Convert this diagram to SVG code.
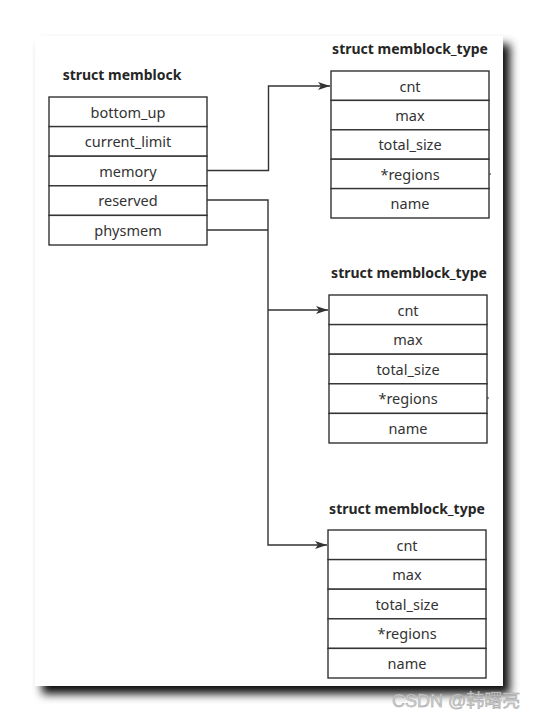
<svg xmlns="http://www.w3.org/2000/svg" width="538" height="721" viewBox="0 0 538 721">
<defs>
<filter id="sh" x="-10%" y="-10%" width="130%" height="130%">
<feDropShadow dx="7" dy="8" stdDeviation="5" flood-color="#000" flood-opacity="0.95"/>
</filter>
<marker id="arr" markerWidth="12" markerHeight="8" refX="12" refY="4" orient="auto" markerUnits="userSpaceOnUse">
<path d="M0,0 L12,4 L0,8 L3,4 Z" fill="#333"/>
</marker>
</defs>
<style>
.box{fill:#fff;stroke:#333;stroke-width:1.4}
.t{font-family:"Noto Sans","Open Sans",sans-serif;font-size:14.5px;fill:#333;text-anchor:middle}
.h{font-family:"Noto Sans","Open Sans",sans-serif;font-size:14px;font-weight:bold;fill:#262626;text-anchor:middle}
.c{fill:none;stroke:#333;stroke-width:1.4}
</style>
<rect width="538" height="721" fill="#fff"/>
<rect x="35" y="36" width="468" height="650" fill="#fff" filter="url(#sh)"/>

<g id="memblock">
<text class="h" x="122" y="80">struct memblock</text>
<rect class="box" x="49" y="97" width="158" height="29.6"/>
<rect class="box" x="49" y="126.6" width="158" height="29.6"/>
<rect class="box" x="49" y="156.2" width="158" height="29.6"/>
<rect class="box" x="49" y="185.8" width="158" height="29.6"/>
<rect class="box" x="49" y="215.4" width="158" height="29.6"/>
<text class="t" x="128" y="117.5">bottom_up</text>
<text class="t" x="128" y="147.1">current_limit</text>
<text class="t" x="128" y="176.7">memory</text>
<text class="t" x="128" y="206.3">reserved</text>
<text class="t" x="128" y="235.9">physmem</text>
</g>

<g id="type1">
<text class="h" x="410" y="54">struct memblock_type</text>
<rect class="box" x="331" y="71" width="158" height="29.4"/>
<rect class="box" x="331" y="100.4" width="158" height="29.4"/>
<rect class="box" x="331" y="129.8" width="158" height="29.4"/>
<rect class="box" x="331" y="159.2" width="158" height="29.4"/>
<rect class="box" x="331" y="188.6" width="158" height="29.4"/>
<text class="t" x="410" y="91.5">cnt</text>
<text class="t" x="410" y="120.9">max</text>
<text class="t" x="410" y="150.3">total_size</text>
<text class="t" x="410" y="179.7">*regions</text>
<text class="t" x="410" y="209.1">name</text>
<line x1="489" y1="174" x2="491" y2="174" stroke="#333" stroke-width="1"/>
</g>

<g id="type2">
<text class="h" x="409" y="278">struct memblock_type</text>
<rect class="box" x="329" y="295" width="158" height="29.6"/>
<rect class="box" x="329" y="324.6" width="158" height="29.6"/>
<rect class="box" x="329" y="354.2" width="158" height="29.6"/>
<rect class="box" x="329" y="383.8" width="158" height="29.6"/>
<rect class="box" x="329" y="413.4" width="158" height="29.6"/>
<text class="t" x="408" y="315.5">cnt</text>
<text class="t" x="408" y="345.1">max</text>
<text class="t" x="408" y="374.7">total_size</text>
<text class="t" x="408" y="404.3">*regions</text>
<text class="t" x="408" y="433.9">name</text>
<line x1="487" y1="398" x2="489" y2="398" stroke="#333" stroke-width="1"/>
</g>

<g id="type3">
<text class="h" x="407" y="514">struct memblock_type</text>
<rect class="box" x="328" y="530" width="158" height="29.6"/>
<rect class="box" x="328" y="559.6" width="158" height="29.6"/>
<rect class="box" x="328" y="589.2" width="158" height="29.6"/>
<rect class="box" x="328" y="618.8" width="158" height="29.6"/>
<rect class="box" x="328" y="648.4" width="158" height="29.6"/>
<text class="t" x="407" y="550.5">cnt</text>
<text class="t" x="407" y="580.1">max</text>
<text class="t" x="407" y="609.7">total_size</text>
<text class="t" x="407" y="639.3">*regions</text>
<text class="t" x="407" y="668.9">name</text>
</g>

<g id="connectors">
<polyline class="c" points="207,170.5 268.5,170.5 268.5,86 330,86" marker-end="url(#arr)"/>
<polyline class="c" points="207,200 268,200 268,545 327,545" marker-end="url(#arr)"/>
<polyline class="c" points="207,230 268,230"/>
<polyline class="c" points="268,310 328,310" marker-end="url(#arr)"/>
</g>

<text x="392" y="707" font-family="'Liberation Sans','Noto Sans CJK SC',sans-serif" font-size="18" fill="#d0d0d0" stroke="#999" stroke-width="0.4">CSDN @韩曙亮</text>
</svg>
